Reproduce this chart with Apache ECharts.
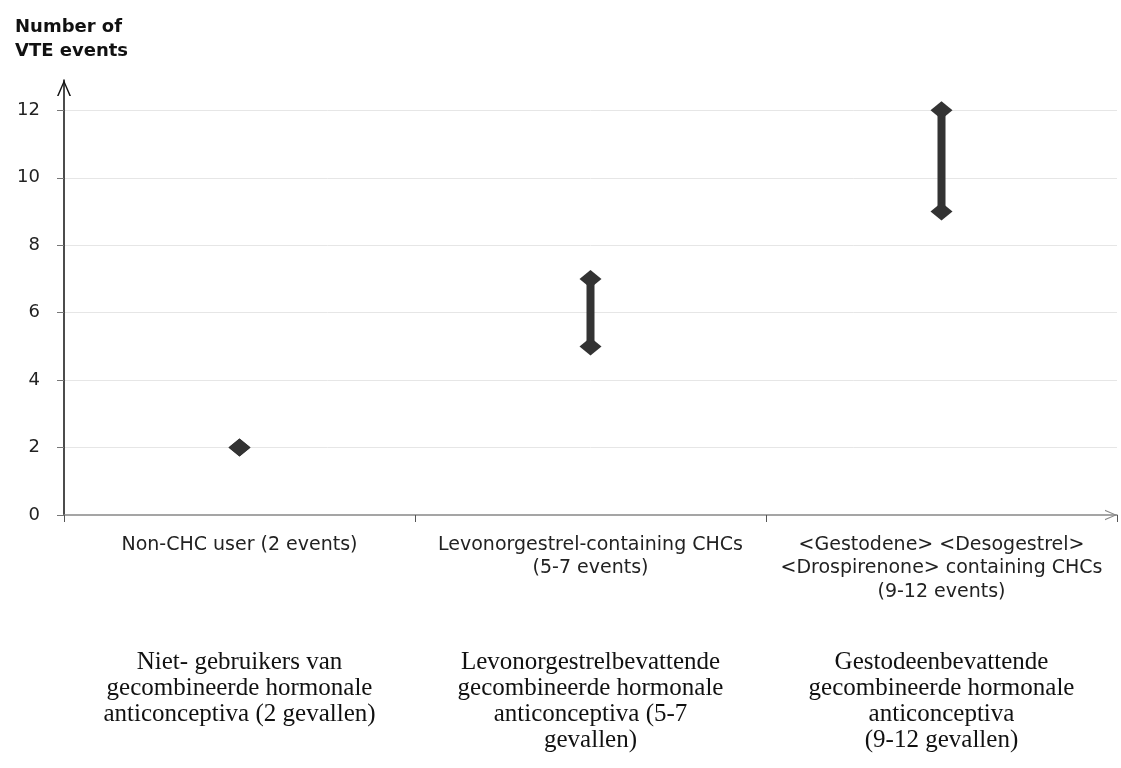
<!DOCTYPE html>
<html>
<head>
<meta charset="utf-8">
<script src="https://cdn.jsdelivr.net/npm/echarts@6/dist/echarts.min.js"></script>
<style>html,body{margin:0;padding:0;background:#fff;}#c{width:1121px;height:768px;}</style>
</head>
<body>
<div id="c"></div>
<script>
var categoriesEn = [
  'Non-CHC user (2 events)',
  'Levonorgestrel-containing CHCs\n(5-7 events)',
  '<Gestodene> <Desogestrel>\n<Drospirenone> containing CHCs\n(9-12 events)'
];
var categoriesNl = [
  'Niet- gebruikers van\ngecombineerde hormonale\nanticonceptiva (2 gevallen)',
  'Levonorgestrelbevattende\ngecombineerde hormonale\nanticonceptiva (5-7\ngevallen)',
  'Gestodeenbevattende\ngecombineerde hormonale\nanticonceptiva\n(9-12 gevallen)'
];
var lowEvents = [2, 5, 9];
var highEvents = [2, 7, 12];
var yTicks = [0, 2, 4, 6, 8, 10, 12];

var chevron = 'path://M0,16 L7,0 L14,16 L12.4,16 L7,3.2 L1.6,16 Z';

var chart = echarts.init(document.getElementById('c'), null, {renderer: 'canvas'});
chart.setOption({
  animation: false,
  backgroundColor: '#fff',
  title: {
    text: 'Number of\nVTE events',
    left: 10, top: 10,
    textStyle: {fontFamily: 'DejaVu Sans', fontWeight: 'bold', fontSize: 18, lineHeight: 24, color: '#111'}
  },
  grid: {left: 64, right: 4, top: 80, bottom: 253, containLabel: false},
  xAxis: [{
    type: 'category',
    data: categoriesEn,
    position: 'bottom',
    boundaryGap: true,
    axisLine: {show: true, lineStyle: {color: '#888', width: 1.5}, symbol: ['none', chevron], symbolSize: [11, 12], symbolOffset: [0, -6]},
    axisTick: {show: true, length: 7, lineStyle: {color: '#555'}},
    axisLabel: {fontFamily: 'DejaVu Sans', fontSize: 19, lineHeight: 23.5, color: '#222', margin: 18, interval: 0},
    splitLine: {show: false}
  }, {
    type: 'category',
    data: categoriesNl,
    position: 'bottom',
    offset: 126,
    boundaryGap: true,
    axisLine: {show: false},
    axisTick: {show: false},
    axisLabel: {fontFamily: 'Liberation Serif', fontSize: 25, lineHeight: 26, color: '#111', margin: 8, interval: 0}
  }],
  yAxis: {
    type: 'value',
    min: 0, max: 12.9, interval: 2,
    axisLine: {show: true, lineStyle: {color: '#111', width: 1.5}, symbol: ['none', chevron], symbolSize: [14, 16], symbolOffset: [0, -8]},
    axisTick: {show: true, length: 7, lineStyle: {color: '#777'}, customValues: yTicks},
    axisLabel: {fontFamily: 'DejaVu Sans', fontSize: 18, color: '#222', margin: 24, customValues: yTicks},
    splitLine: {show: true, showMaxLine: true, showMinLine: false, lineStyle: {color: '#e6e6e6', width: 1}}
  },
  series: [{
    type: 'custom',
    xAxisIndex: 0,
    data: lowEvents.map(function (v, i) { return [i, v, highEvents[i]]; }),
    renderItem: function (params, api) {
      var p1 = api.coord([api.value(0), api.value(1)]);
      var p2 = api.coord([api.value(0), api.value(2)]);
      return {
        type: 'line',
        shape: {x1: p1[0], y1: p1[1], x2: p2[0], y2: p2[1]},
        style: {stroke: '#333', lineWidth: 8}
      };
    },
    z: 2
  }, {
    type: 'scatter',
    xAxisIndex: 0,
    data: lowEvents,
    symbol: 'diamond',
    symbolSize: [22, 18],
    itemStyle: {color: '#333', opacity: 1},
    z: 3
  }, {
    type: 'scatter',
    xAxisIndex: 0,
    data: highEvents,
    symbol: 'diamond',
    symbolSize: [22, 18],
    itemStyle: {color: '#333', opacity: 1},
    z: 3
  }]
});
</script>
</body>
</html>
